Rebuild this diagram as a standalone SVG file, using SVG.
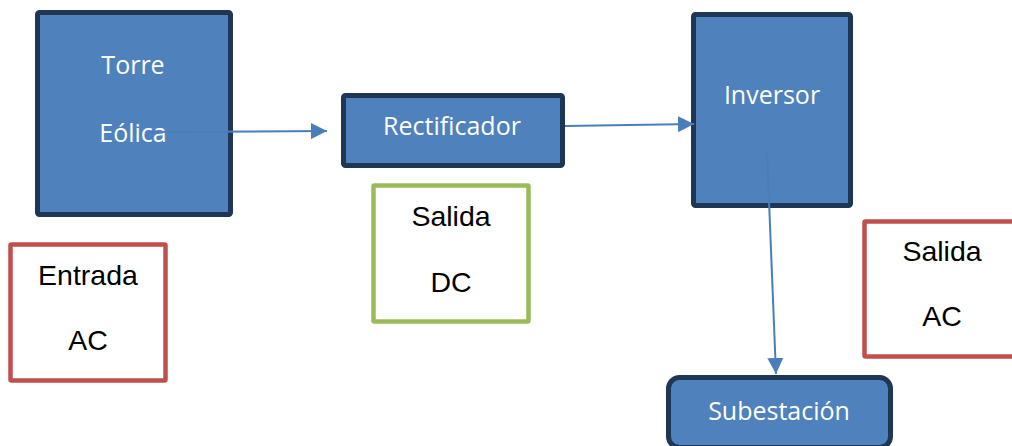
<svg xmlns="http://www.w3.org/2000/svg" width="1012" height="446" viewBox="0 0 1012 446">
<style>
.blk{fill:#4f81bd;stroke:#1f3654;stroke-width:5}
.wt{font-family:"Open Sans",sans-serif;font-size:25px;fill:#ffffff;text-anchor:middle}
.bt{font-family:"Liberation Sans",Arial,sans-serif;font-size:28.5px;fill:#000000;text-anchor:middle}
.red{fill:#ffffff;stroke:#c0504d;stroke-width:4.5}
.grn{fill:#ffffff;stroke:#9bbb59;stroke-width:4.5}
.conn{stroke:#4a7ebb;stroke-width:2;fill:none}
</style>
<defs>
<marker id="ah" markerWidth="8" markerHeight="8" refX="8" refY="4" orient="auto" markerUnits="userSpaceOnUse" viewBox="0 0 8 8">
<path d="M0,0 L8,4 L0,8 z" fill="#4a7ebb"/>
</marker>
<marker id="ah2" viewBox="0 0 16 16" markerWidth="16" markerHeight="16" refX="16" refY="8" orient="auto" markerUnits="userSpaceOnUse">
<path d="M0,0 L16,8 L0,16 z" fill="#4a7ebb"/>
</marker>
</defs>
<g id="torre">
<rect class="blk" x="37.5" y="12.5" width="193" height="202" rx="2"/>
<text class="wt" x="133" y="74">Torre</text>
<text class="wt" x="133" y="142">Eólica</text>
</g>
<g id="rectificador">
<rect class="blk" x="343.5" y="95.5" width="219" height="70" rx="2"/>
<text class="wt" x="452" y="135">Rectificador</text>
</g>
<g id="inversor">
<rect class="blk" x="693.5" y="14.5" width="157" height="191" rx="2"/>
<text class="wt" x="772" y="104">Inversor</text>
</g>
<g id="subestacion">
<rect class="blk" x="668.5" y="377.5" width="222" height="70" rx="11"/>
<text class="wt" x="779" y="420">Subestación</text>
</g>
<g id="entrada-ac">
<rect class="red" x="10.5" y="244.5" width="155" height="136" rx="1"/>
<text class="bt" x="88" y="285">Entrada</text>
<text class="bt" x="88" y="350">AC</text>
</g>
<g id="salida-dc">
<rect class="grn" x="373.5" y="185.5" width="155" height="136" rx="1"/>
<text class="bt" x="451" y="226">Salida</text>
<text class="bt" x="451" y="292">DC</text>
</g>
<g id="salida-ac">
<rect class="red" x="864.5" y="221.5" width="160" height="135" rx="1"/>
<text class="bt" x="942" y="261">Salida</text>
<text class="bt" x="942" y="326">AC</text>
</g>
<g id="connectors">
<line class="conn" x1="148" y1="132" x2="327" y2="131" marker-end="url(#ah2)"/>
<line class="conn" x1="565" y1="126" x2="694" y2="124" marker-end="url(#ah2)"/>
<line class="conn" x1="767" y1="151" x2="776" y2="374" marker-end="url(#ah2)"/>
</g>
</svg>
